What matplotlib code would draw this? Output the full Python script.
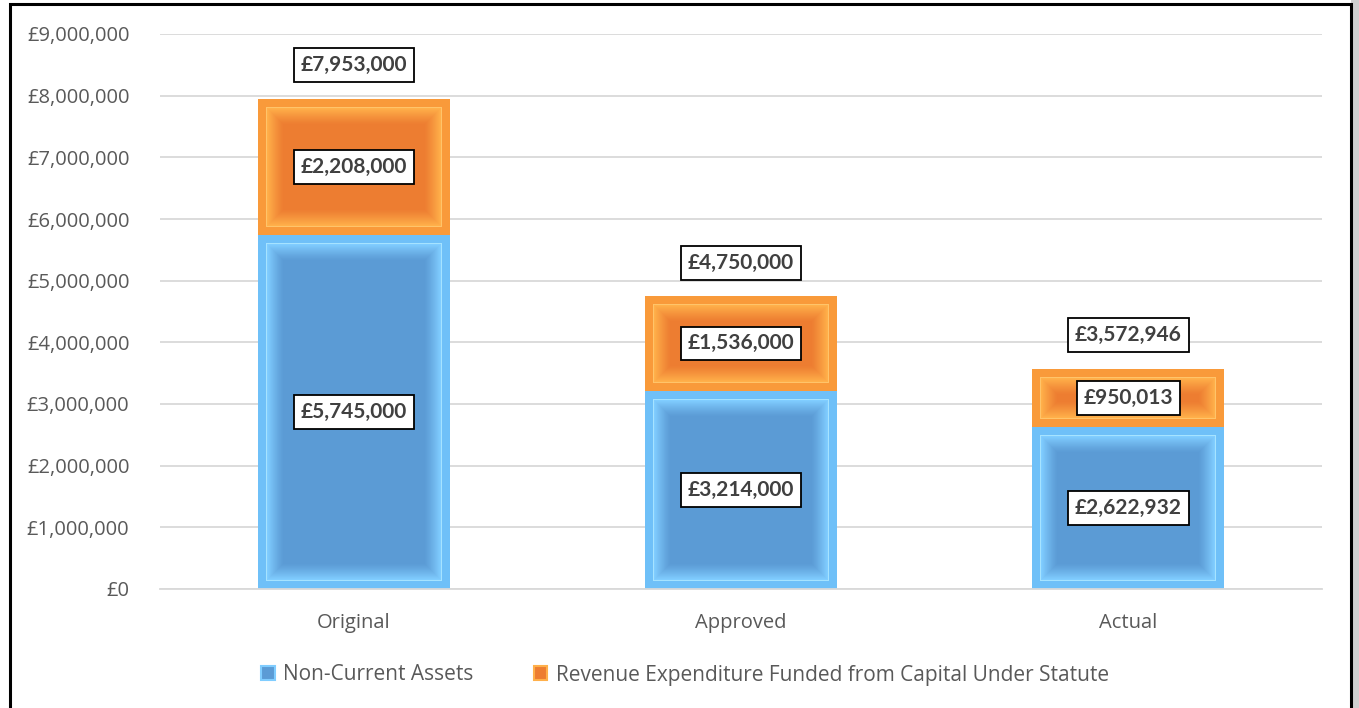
import matplotlib
matplotlib.use("Agg")
import matplotlib.pyplot as plt
from matplotlib.patches import Rectangle, Patch
from matplotlib.ticker import FuncFormatter, MultipleLocator
import matplotlib.colors as mcolors
import numpy as np

categories = ["Original", "Approved", "Actual"]
non_current = [5745000, 3214000, 2622932]
revenue_exp = [2208000, 1536000, 950013]
totals = [7953000, 4750000, 3572946]
series_names = ["Non-Current Assets", "Revenue Expenditure Funded from Capital Under Statute"]

blue = dict(base="#5B9BD5", band="#6FC0F8", line="#A6E3FF", light="#80CDFF")
orange = dict(base="#ED7D31", band="#F99A3A", line="#FFC46A", light="#FFB04A")

W, H = 1359, 708
fig = plt.figure(figsize=(W / 100, H / 100), dpi=100)
ax = fig.add_axes([160 / W, 1 - 589 / H, (1322 - 160) / W, (589 - 34) / H])

x = np.arange(len(categories))
bw = 0.495
b1 = ax.bar(x, non_current, bw, color=blue["band"], zorder=2, label=series_names[0])
b2 = ax.bar(x, revenue_exp, bw, bottom=non_current, color=orange["band"], zorder=2,
            label=series_names[1])

ax.set_xlim(-0.5, len(categories) - 0.5)
ax.set_ylim(0, 9000000)
ax.yaxis.set_major_locator(MultipleLocator(1000000))
ax.yaxis.set_major_formatter(FuncFormatter(lambda v, p: "£{:,.0f}".format(v)))
ax.set_xticks(x)
ax.set_xticklabels(categories)
ax.grid(axis="y", color="#D9D9D9", lw=1.3, zorder=0)
ax.set_axisbelow(True)
for s in ["left", "right", "top"]:
    ax.spines[s].set_visible(False)
ax.spines["bottom"].set_color("#D9D9D9")
ax.spines["bottom"].set_linewidth(1.3)
ax.tick_params(length=0, labelsize=14.5, labelcolor="#595959")
ax.tick_params(axis="y", pad=22)
ax.tick_params(axis="x", pad=17.5)
for t in ax.get_xticklabels() + ax.get_yticklabels():
    t.set_family("Open Sans")

# pixel scale for bevel insets
p0 = ax.transData.transform((0, 0))
p1 = ax.transData.transform((1, 1000000))
px_x = 1.0 / abs(p1[0] - p0[0])
px_y = 1000000.0 / abs(p1[1] - p0[1])


def bevel(rect, col):
    x0, y0 = rect.get_x(), rect.get_y()
    w, h = rect.get_width(), rect.get_height()

    def inner(d, c, z):
        ax.add_patch(Rectangle((x0 + d * px_x, y0 + d * px_y),
                               w - 2 * d * px_x, h - 2 * d * px_y,
                               facecolor=c, edgecolor="none", zorder=z))
    inner(8, col["line"], 2.1)
    c0 = np.array(mcolors.to_rgb(col["light"]))
    c1 = np.array(mcolors.to_rgb(col["base"]))
    steps = 16
    for i in range(steps + 1):
        f = i / steps
        g = 1 - (1 - f) ** 1.2
        c = c0 * (1 - g) + c1 * g
        inner(9 + i, tuple(c), 2.2 + i * 0.01)


for r in b1:
    bevel(r, blue)
for r in b2:
    bevel(r, orange)

box = dict(boxstyle="square,pad=0.33", fc="white", ec="black", lw=1.3)
lab_kw = dict(ha="center", va="center", fontsize=15, fontweight="bold",
              color="#404040", family="Lato", bbox=box, zorder=5)
for i in range(len(categories)):
    ax.text(x[i], non_current[i] / 2, "£{:,}".format(non_current[i]), **lab_kw)
    ax.text(x[i], non_current[i] + revenue_exp[i] / 2, "£{:,}".format(revenue_exp[i]), **lab_kw)
    ax.annotate("£{:,}".format(totals[i]), (x[i], totals[i]), xytext=(0, 24),
                textcoords="offset points", **lab_kw)

handles = [Patch(facecolor=blue["base"], edgecolor=blue["light"], lw=1.5),
           Patch(facecolor=orange["base"], edgecolor=orange["light"], lw=1.5)]
leg = fig.legend(handles, series_names, loc="center", bbox_to_anchor=(685 / W, 1 - 675 / H),
                 ncol=2, frameon=False, handlelength=0.65, handleheight=0.65,
                 handletextpad=0.4, columnspacing=2.9,
                 prop=dict(family="Open Sans", size=15))
for t in leg.get_texts():
    t.set_color("#595959")

# outer frame
fig.add_artist(Rectangle((1351 / W, -0.05), 8 / W, 1.1, transform=fig.transFigure,
                         facecolor="#D0D0D0", edgecolor="none", zorder=0))
fig.add_artist(Rectangle((10 / W, -0.05), (1351 - 10) / W, 1.05 - 4 / H,
                         transform=fig.transFigure, fill=False, ec="black", lw=2.2))

fig.savefig("out.png", dpi=100)
